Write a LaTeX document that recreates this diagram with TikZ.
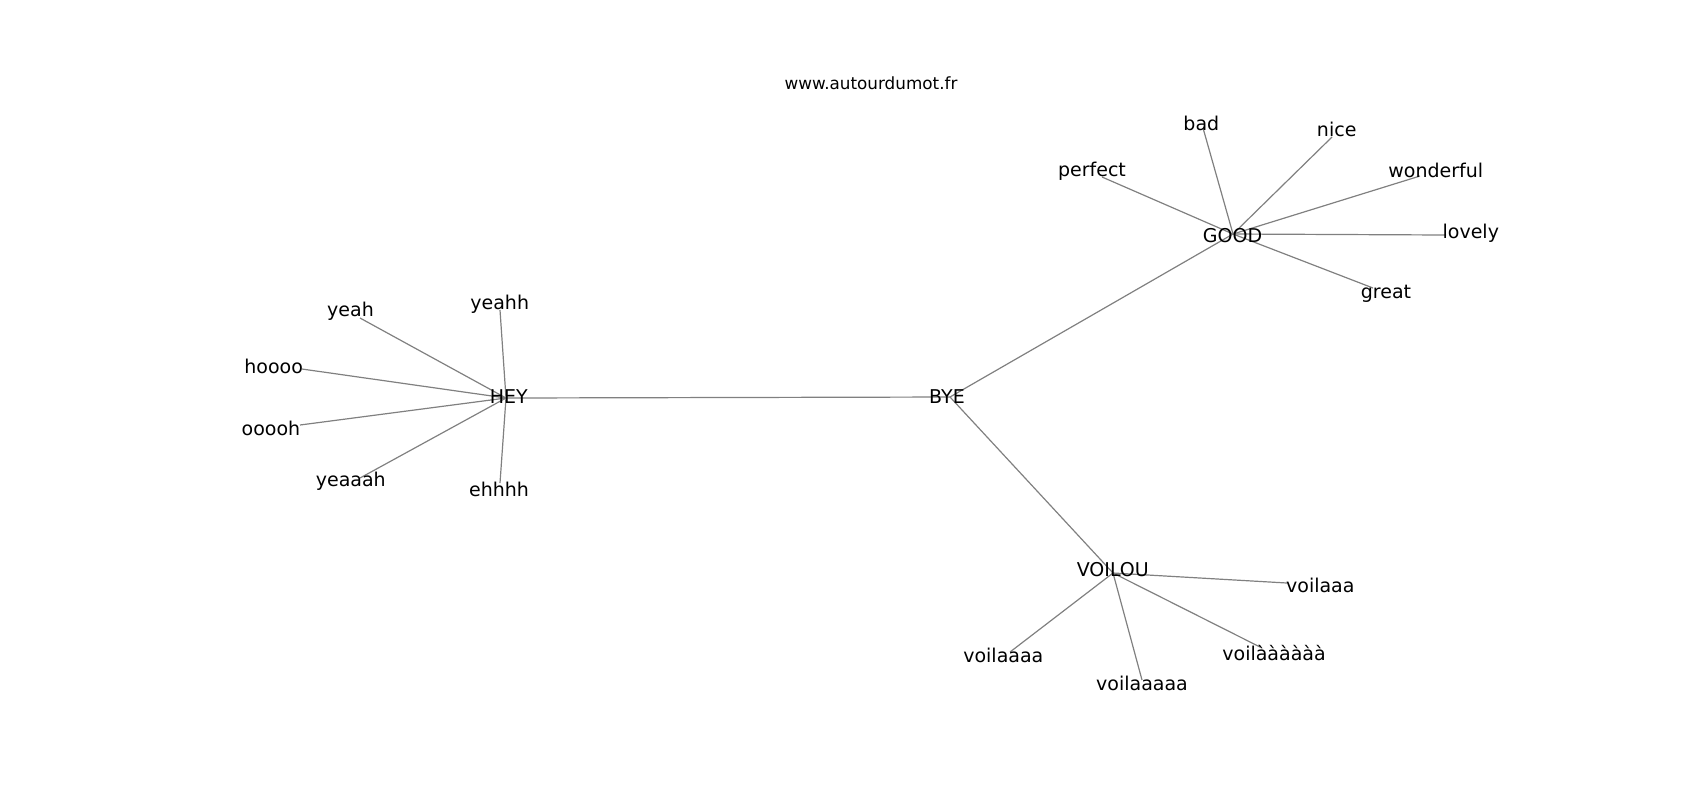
\documentclass[tikz,border=0pt]{standalone}
\usepackage{fontspec}
\setmainfont{DejaVu Sans}
\definecolor{edgegray}{RGB}{128, 128, 128}
\usepackage{tikz}
\usetikzlibrary{positioning}

\begin{document}
\begin{tikzpicture}[x=0.5pt, y=-0.5pt,
    word/.style={inner sep=0pt, font=\fontsize{9.5}{11}\selectfont},
    link/.style={draw=edgegray, line width=0.6pt}]
  \useasboundingbox (0,0) rectangle (1700,800);

  % graph positions
  \coordinate (hey) at (506,398);
  \coordinate (bye) at (950,397);
  \coordinate (good) at (1233,234);
  \coordinate (voilou) at (1113,573);
  \coordinate (yeah) at (360,318);
  \coordinate (yeahh) at (500,310);
  \coordinate (hoooo) at (302,369);
  \coordinate (ooooh) at (300,425);
  \coordinate (yeaaah) at (360,478);
  \coordinate (ehhhh) at (500,483);
  \coordinate (perfect) at (1102,177);
  \coordinate (bad) at (1203,128);
  \coordinate (nice) at (1332,137);
  \coordinate (wonderful) at (1420,176);
  \coordinate (lovely) at (1446,235);
  \coordinate (great) at (1373,288);
  \coordinate (voila3) at (1287,583);
  \coordinate (voila4) at (1010,652);
  \coordinate (voila5) at (1142,680);
  \coordinate (voila6) at (1260,647);

  % edges
  \draw[link] (hey) -- (bye);
  \draw[link] (bye) -- (good);
  \draw[link] (bye) -- (voilou);
  \draw[link] (hey) -- (yeah);
  \draw[link] (hey) -- (yeahh);
  \draw[link] (hey) -- (hoooo);
  \draw[link] (hey) -- (ooooh);
  \draw[link] (hey) -- (yeaaah);
  \draw[link] (hey) -- (ehhhh);
  \draw[link] (good) -- (perfect);
  \draw[link] (good) -- (bad);
  \draw[link] (good) -- (nice);
  \draw[link] (good) -- (wonderful);
  \draw[link] (good) -- (lovely);
  \draw[link] (good) -- (great);
  \draw[link] (voilou) -- (voila3);
  \draw[link] (voilou) -- (voila4);
  \draw[link] (voilou) -- (voila5);
  \draw[link] (voilou) -- (voila6);

  % labels
  \node[inner sep=0pt, font=\fontsize{8.4}{10}\selectfont] (title) at (871,83) {www.autourdumot.fr};
  \node[word] (hey-t) at (508.7,396.7) {HEY};
  \node[word] (bye-t) at (947,396.7) {BYE};
  \node[word] (good-t) at (1232.5,235.7) {GOOD};
  \node[word] (voilou-t) at (1112.8,570) {VOILOU};
  \node[word] (yeah-t) at (350.5,311.7) {yeah};
  \node[word] (yeahh-t) at (499.7,304) {yeahh};
  \node[word] (hoooo-t) at (273.7,366) {hoooo};
  \node[word] (ooooh-t) at (271,428.3) {ooooh};
  \node[word] (yeaaah-t) at (350.8,481.7) {yeaaah};
  \node[word] (ehhhh-t) at (499,489.3) {ehhhh};
  \node[word] (perfect-t) at (1092,171) {perfect};
  \node[word] (bad-t) at (1201.3,123.3) {bad};
  \node[word] (nice-t) at (1336.7,129.3) {nice};
  \node[word] (wonderful-t) at (1435.8,170) {wonderful};
  \node[word] (lovely-t) at (1470.8,233.3) {lovely};
  \node[word] (great-t) at (1386,293.3) {great};
  \node[word] (voila3-t) at (1320.3,585) {voilaaa};
  \node[word] (voila4-t) at (1003.3,655) {voilaaaa};
  \node[word] (voila5-t) at (1142,683.3) {voilaaaaa};
  \node[word] (voila6-t) at (1274,653.3) {voilàààààà};
\end{tikzpicture}
\end{document}
